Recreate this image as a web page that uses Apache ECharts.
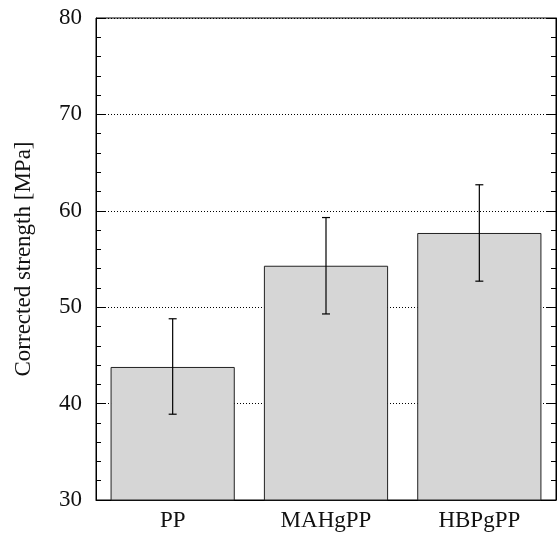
<!DOCTYPE html>
<html><head><meta charset="utf-8">
<script src="https://cdn.jsdelivr.net/npm/echarts@6/dist/echarts.min.js"></script>
<style>html,body{margin:0;padding:0;background:#fff}#c{width:557px;height:538px}</style>
</head><body><div id="c"></div>
<script>
var categories = ['PP', 'MAHgPP', 'HBPgPP'];
var strength = [43.8, 54.3, 57.7];
var errLow = [38.9, 49.3, 52.7];
var errHigh = [48.8, 59.3, 62.7];
var yTicks = [30, 40, 50, 60, 70, 80];

var font = '"Liberation Serif", "DejaVu Serif", serif';
var chart = echarts.init(document.getElementById('c'));
var errData = categories.map(function (c, i) { return [i, errLow[i], errHigh[i]]; });
chart.setOption({
  animation: false,
  grid: { left: 96, right: 1, top: 18, bottom: 38, show: true, borderColor: '#000', borderWidth: 1, backgroundColor: 'transparent' },
  xAxis: [{
    type: 'category', data: categories,
    axisLine: { lineStyle: { color: '#000', width: 1 } },
    axisTick: { show: false },
    axisLabel: { color: '#111', fontFamily: font, fontSize: 23, margin: 9 }
  }],
  yAxis: [{
    type: 'value', min: yTicks[0], max: yTicks[yTicks.length - 1], interval: 10,
    name: 'Corrected strength [MPa]', nameLocation: 'middle', nameGap: 61,
    nameTextStyle: { color: '#111', fontFamily: font, fontSize: 23 },
    axisLine: { show: true, lineStyle: { color: '#000' } },
    axisTick: { show: true, inside: true, length: 10, lineStyle: { color: '#000' } },
    minorTick: { show: true, splitNumber: 5, length: 5, lineStyle: { color: '#000' } },
    axisLabel: { color: '#111', fontFamily: font, fontSize: 23, margin: 14 },
    splitLine: { show: true, lineStyle: { color: '#000', type: [1, 2], width: 1 } }
  }, {
    type: 'value', position: 'right', min: yTicks[0], max: yTicks[yTicks.length - 1], interval: 10,
    axisLine: { show: true, lineStyle: { color: '#000' } },
    axisTick: { show: true, inside: true, length: 10, lineStyle: { color: '#000' } },
    minorTick: { show: true, splitNumber: 5, length: 5, lineStyle: { color: '#000' } },
    axisLabel: { show: false },
    splitLine: { show: false }
  }],
  series: [{
    type: 'bar', data: strength, barWidth: '81%',
    itemStyle: { color: '#d6d6d6', borderColor: '#222', borderWidth: 1 },
    z: 2
  }, {
    type: 'custom', data: errData, z: 3,
    renderItem: function (params, api) {
      var x = api.value(0);
      var lo = api.coord([x, api.value(1)]);
      var hi = api.coord([x, api.value(2)]);
      var cap = 4;
      var st = { stroke: '#000', lineWidth: 1.2 };
      return { type: 'group', children: [
        { type: 'line', shape: { x1: lo[0], y1: lo[1], x2: hi[0], y2: hi[1] }, style: st },
        { type: 'line', shape: { x1: lo[0] - cap, y1: lo[1], x2: lo[0] + cap, y2: lo[1] }, style: st },
        { type: 'line', shape: { x1: hi[0] - cap, y1: hi[1], x2: hi[0] + cap, y2: hi[1] }, style: st }
      ]};
    }
  }]
});
</script></body></html>
